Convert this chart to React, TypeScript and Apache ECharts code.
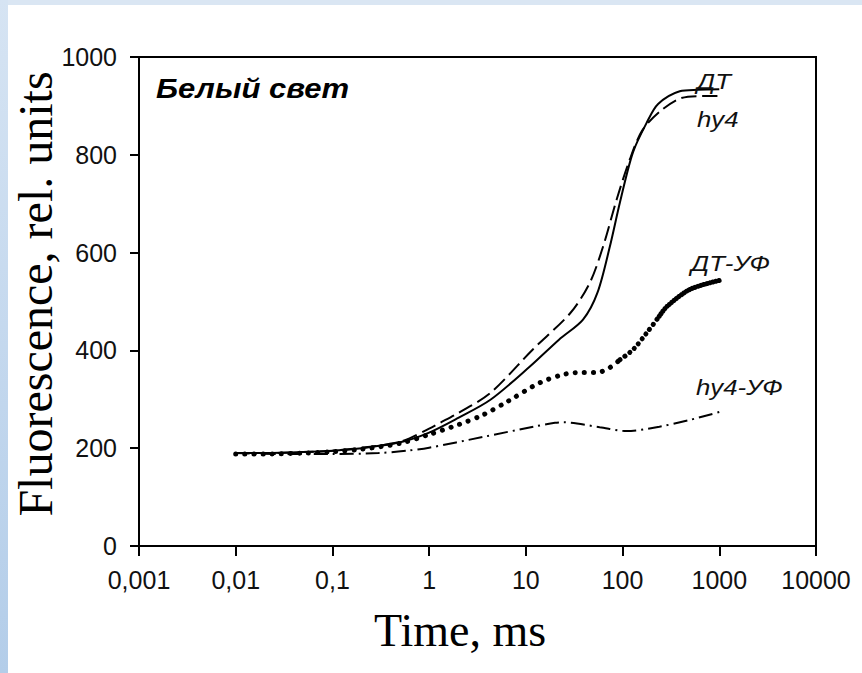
import React, { useEffect, useRef } from "react";
import * as echarts from "echarts";

// ---- data (time in ms, fluorescence in rel. units) ----
const xTickLabels = ["0,001", "0,01", "0,1", "1", "10", "100", "1000", "10000"];
const yTicks = [0, 200, 400, 600, 800, 1000];

const tDT = [0.01, 0.02, 0.05, 0.1, 0.2, 0.5, 1, 2, 4.3, 11, 22, 39, 55, 74, 94, 128, 179, 233, 390, 600, 1000];
const vDT = [190, 190, 192, 195, 200, 212, 232, 262, 299, 367, 422, 463, 518, 613, 703, 805, 867, 904, 930, 933, 934];

const tHY = [0.01, 0.02, 0.05, 0.1, 0.2, 0.5, 1, 1.3, 2, 4.3, 11.8, 29, 46, 63, 87, 119, 160, 245, 390, 600, 1000];
const vHY = [190, 190, 192, 195, 201, 213, 240, 252, 272, 313, 402, 477, 539, 613, 709, 791, 850, 889, 915, 920, 920];

const tDU = [0.01, 0.02, 0.05, 0.1, 0.2, 0.5, 1, 2, 3.6, 6.4, 14, 26, 40, 55, 74, 94, 129, 178, 240, 288, 500, 1000];
const vDU = [188, 188, 190, 193, 198, 210, 228, 248, 268, 295, 334, 352, 355, 355, 365, 381, 402, 436, 470, 490, 525, 543];

const tHU = [0.01, 0.03, 0.1, 0.3, 0.6, 1, 3.6, 12, 20, 24, 58, 110, 240, 500, 1000];
const vHU = [190, 188, 188, 190, 195, 201, 223, 244, 252, 253, 243, 235, 244, 258, 274];

const seriesNames = ["ДТ", "hy4", "ДТ-УФ", "hy4-УФ"];
const panelTitle = "Белый свет";
const xTitle = "Time, ms";
const yTitle = "Fluorescence, rel. units";

const pairs = (t: number[], v: number[]) => t.map((x, i) => [x, v[i]]);

export default function App() {
  const ref = useRef<HTMLDivElement>(null);
  useEffect(() => {
    if (!ref.current) return;
    const chart = echarts.init(ref.current, undefined, { renderer: "svg" });
    const sans = "Liberation Sans, Arial, sans-serif";
    const serif = "Liberation Serif, Times New Roman, serif";
    const annot = (text: string, x: number, y: number) => ({
      type: "text",
      x,
      y,
      scaleX: 1.12,
      style: { text, font: `italic 23px ${sans}`, fill: "#111" },
      z: 10,
    });
    const duAll = pairs(tDU, vDU);
    const duA = duAll.filter((p) => p[0] <= 94);
    const duB = duAll.filter((p) => p[0] >= 94 && p[0] <= 240);
    const duC = duAll.filter((p) => p[0] >= 240);
    const dotted = (name: string, data: number[][], gap: number, width: number) => ({
      name,
      type: "line",
      data,
      smooth: 0.3,
      showSymbol: false,
      lineStyle: { color: "#000", width, type: [0.1, gap], cap: "round" },
    });
    chart.setOption({
      animation: false,
      backgroundColor: "#ffffff",
      grid: {
        left: 139,
        right: 46,
        top: 57,
        bottom: 127,
        show: true,
        borderColor: "#000",
        borderWidth: 2,
        backgroundColor: "transparent",
      },
      xAxis: {
        type: "log",
        logBase: 10,
        min: 0.001,
        max: 10000,
        axisLine: { lineStyle: { color: "#000", width: 2 } },
        axisTick: { show: true, inside: false, length: 10, lineStyle: { color: "#000", width: 2 } },
        minorTick: { show: false },
        splitLine: { show: false },
        axisLabel: {
          color: "#111",
          fontSize: 25,
          fontFamily: sans,
          margin: 21,
          formatter: (v: number) => xTickLabels[Math.round(Math.log10(v)) + 3] ?? "",
        },
      },
      yAxis: {
        type: "value",
        min: yTicks[0],
        max: yTicks[yTicks.length - 1],
        interval: 200,
        axisLine: { show: true, lineStyle: { color: "#000", width: 2 } },
        axisTick: { show: true, inside: false, length: 9, lineStyle: { color: "#000", width: 2 } },
        splitLine: { show: false },
        axisLabel: {
          color: "#111",
          fontSize: 25,
          fontFamily: sans,
          margin: 22,
          formatter: (v: number) => String(v),
        },
      },
      series: [
        {
          name: seriesNames[0],
          type: "line",
          data: pairs(tDT, vDT),
          smooth: 0.3,
          showSymbol: false,
          lineStyle: { color: "#000", width: 2, type: "solid" },
        },
        {
          name: seriesNames[1],
          type: "line",
          data: pairs(tHY, vHY),
          smooth: 0.3,
          showSymbol: false,
          lineStyle: { color: "#000", width: 2, type: [15, 6] },
        },
        dotted(seriesNames[2], duA, 9, 5),
        dotted(seriesNames[2] + " b", duB, 6, 5),
        dotted(seriesNames[2] + " c", duC, 3, 5),
        {
          name: seriesNames[3],
          type: "line",
          data: pairs(tHU, vHU),
          smooth: 0.3,
          showSymbol: false,
          lineStyle: { color: "#000", width: 2, type: [14, 5, 2, 5] },
        },
      ],
      graphic: [
        { type: "rect", shape: { x: 0, y: 0, width: 862, height: 5 }, style: { fill: "#dae6f3" }, z: -5 },
        {
          type: "rect",
          shape: { x: 0, y: 0, width: 8, height: 673 },
          style: {
            fill: new echarts.graphic.LinearGradient(0, 0, 0, 1, [
              { offset: 0, color: "#d6e4f3" },
              { offset: 1, color: "#b3cde9" },
            ]),
          },
          z: -5,
        },
        {
          type: "text",
          x: 156,
          y: 75,
          scaleX: 1.15,
          style: { text: panelTitle, font: `italic bold 27px ${sans}`, fill: "#000" },
          z: 10,
        },
        annot(seriesNames[0], 697, 69),
        annot(seriesNames[1], 697, 107),
        annot(seriesNames[2], 691, 251),
        annot(seriesNames[3], 696, 375),
        {
          type: "text",
          x: 460,
          y: 630,
          style: {
            text: xTitle,
            font: `46px ${serif}`,
            fill: "#000",
            align: "center",
            verticalAlign: "middle",
          },
        },
        {
          type: "text",
          x: 35,
          y: 294,
          rotation: Math.PI / 2,
          style: {
            text: yTitle,
            font: `48px ${serif}`,
            fill: "#000",
            align: "center",
            verticalAlign: "middle",
          },
        },
      ],
    });
    return () => chart.dispose();
  }, []);
  return (
    <div
      ref={ref}
      style={{ position: "fixed", left: 0, top: 0, width: 862, height: 673, background: "#fff" }}
    />
  );
}
